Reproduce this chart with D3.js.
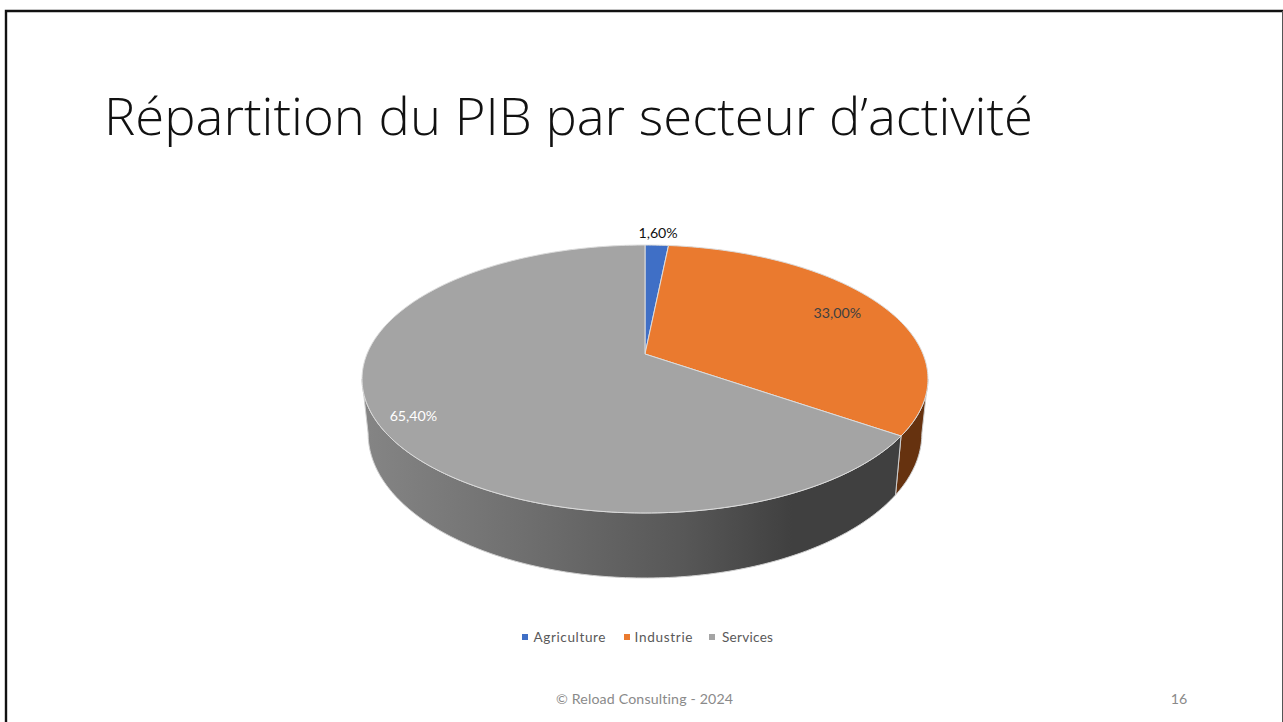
<!DOCTYPE html>
<html><head><meta charset="utf-8">
<script src="https://cdn.jsdelivr.net/npm/d3@7/dist/d3.min.js"></script>
<style>html,body{margin:0;padding:0;background:#fff}svg{display:block}text{font-variant-ligatures:none;font-kerning:normal}</style>
</head><body><svg id="c" width="1283" height="722"></svg>
<script>
const categories = ["Agriculture", "Industrie", "Services"];
const values = [1.6, 33.0, 65.4];
const valueLabels = ["1,60%", "33,00%", "65,40%"];
const topColors = ["#3f6fc6", "#ea7a2f", "#a4a4a4"];
const wallColors = ["#2a4678", "#66320f", "#555555"];
const labelColors = ["#111111", "#404040", "#ffffff"];
const labelRadii = [1.135, 0.811, 0.87];
const labelShift = [0, 0, 5];
const titleText = "Répartition du PIB par secteur d’activité";
const footerText = "© Reload Consulting - 2024";
const pageNumber = "16";

const svg = d3.select("#c");
const W = 1283, H = 722;
const font = "Lato, 'Open Sans', sans-serif";

// page frame
svg.append("path").attr("d", `M6,${H}V11H${W}`).attr("fill", "none").attr("stroke", "#111").attr("stroke-width", 2.4);
svg.append("path").attr("d", `M1282.5,11V${H}`).attr("fill", "none").attr("stroke", "#555").attr("stroke-width", 1);

// title
svg.append("text").attr("x", 104).attr("y", 135).attr("font-family", "'Open Sans', Lato, sans-serif").attr("font-weight", 300)
  .attr("font-size", 51).attr("fill", "#111").attr("textLength", 929).attr("lengthAdjust", "spacingAndGlyphs").text(titleText);

// perspective projection of the pie disc
const cx = 645, persp = 0.1866;
function projector(A, B, y0) {
  return (theta, r = 1) => {
    const w = 1 + persp * r * Math.cos(theta);
    return [cx + A * r * Math.sin(theta) / w, y0 - B * r * Math.cos(theta) / w];
  };
}
const topP = projector(278, 129.3, 354);
const botP = projector(272, 139.5, 406.5);

const arcs = d3.pie().sort(null).value(d => d)(values);
const colorOf = d3.scaleOrdinal(categories, topColors);
const wallOf = d3.scaleOrdinal(categories, wallColors);
const line = d3.line();
const samples = (a, b) => { const n = Math.max(2, Math.ceil(Math.abs(b - a) * 60)); return d3.range(n + 1).map(i => a + (b - a) * i / n); };

// side wall gradient
const defs = svg.append("defs");
const grad = defs.append("linearGradient").attr("id", "wall").attr("gradientUnits", "userSpaceOnUse")
  .attr("x1", 362).attr("x2", 900).attr("y1", 0).attr("y2", 0);
[[0, "#858585"], [0.3, "#6f6f6f"], [0.6, "#575757"], [0.8, "#404040"], [1, "#404040"]]
  .forEach(([o, c]) => grad.append("stop").attr("offset", o).attr("stop-color", c));

// visible wall range
const silR = Math.acos(-persp), silL = 2 * Math.PI - silR;
const walls = svg.append("g");
arcs.forEach((d, i) => {
  const a = Math.max(d.startAngle, silR), b = Math.min(d.endAngle, silL);
  if (b <= a) return;
  const pts = samples(a, b).map(t => topP(t)).concat(samples(b, a).map(t => botP(t)));
  walls.append("path").attr("d", line(pts) + "Z")
    .attr("fill", i === 2 ? "url(#wall)" : wallOf(categories[i]))
    .attr("stroke", "#cfcfcf").attr("stroke-width", 1).attr("stroke-linejoin", "round");
});

// top faces
const tops = svg.append("g");
const apex = topP(0, 0);
arcs.forEach((d, i) => {
  const pts = [apex].concat(samples(d.startAngle, d.endAngle).map(t => topP(t)));
  tops.append("path").attr("d", line(pts) + "Z").attr("fill", colorOf(categories[i]))
    .attr("stroke", "#dcdcdc").attr("stroke-width", 1).attr("stroke-linejoin", "round");
});

// value labels
arcs.forEach((d, i) => {
  const m = (d.startAngle + d.endAngle) / 2;
  const p = topP(m, labelRadii[i]);
  svg.append("text").attr("x", p[0]).attr("y", p[1] + labelShift[i]).attr("dy", "0.35em").attr("text-anchor", "middle")
    .attr("font-family", font).attr("font-size", 14.2).attr("fill", labelColors[i]).text(valueLabels[i]);
});

// legend
const legendX = d3.scaleOrdinal(categories, [525, 627, 712]);
const legendTextX = d3.scaleOrdinal(categories, [533.5, 634.5, 722]);
const legendLen = d3.scaleOrdinal(categories, [72, 58, 51]);
const legend = svg.append("g");
categories.forEach((c, i) => {
  legend.append("rect").attr("x", legendX(c) - 3).attr("y", 634).attr("width", 6).attr("height", 6).attr("fill", colorOf(c));
  legend.append("text").attr("x", legendTextX(c)).attr("y", 637).attr("dy", "0.35em").attr("font-family", font)
    .attr("font-size", 13.6).attr("fill", "#595959").attr("textLength", legendLen(c)).text(c);
});

// footer
svg.append("text").attr("x", 644.5).attr("y", 699).attr("dy", "0.35em").attr("text-anchor", "middle")
  .attr("font-family", font).attr("font-size", 14.2).attr("fill", "#8a8a8a").attr("textLength", 177).text(footerText);
svg.append("text").attr("x", 1179).attr("y", 699).attr("dy", "0.35em").attr("text-anchor", "middle")
  .attr("font-family", font).attr("font-size", 14.2).attr("fill", "#8a8a8a").text(pageNumber);
</script></body></html>
